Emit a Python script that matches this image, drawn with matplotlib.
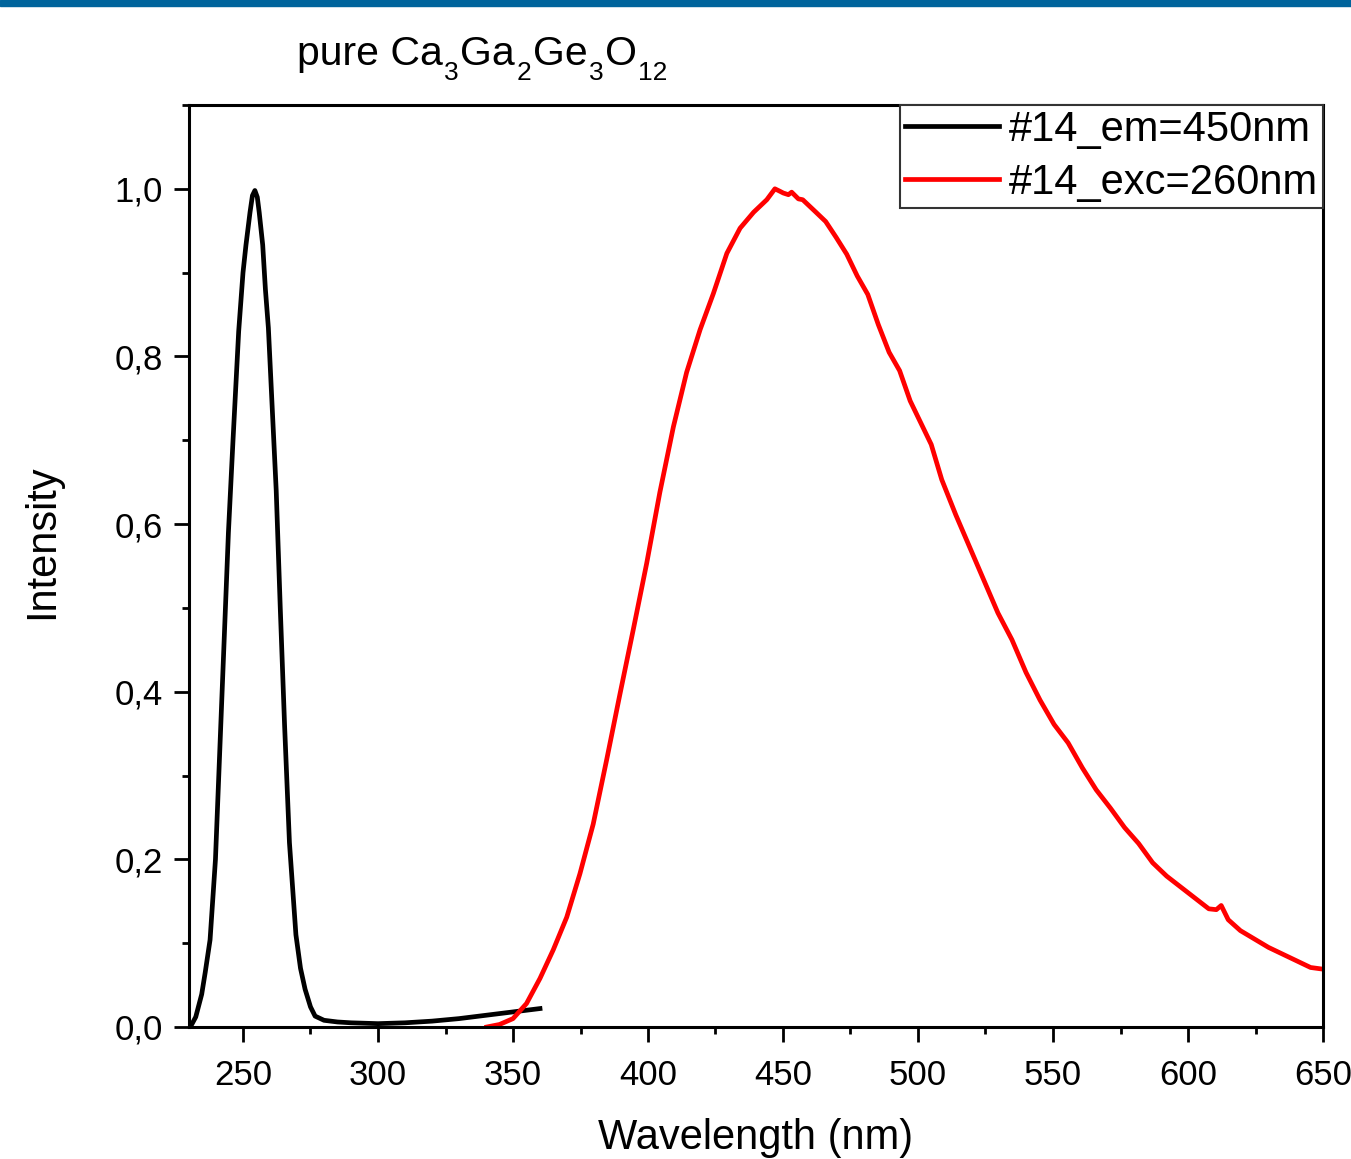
import matplotlib
matplotlib.use("Agg")
import matplotlib.pyplot as plt
from matplotlib.ticker import MultipleLocator, FuncFormatter
from matplotlib.patches import Rectangle

plt.rcParams["font.family"] = ["Liberation Sans", "DejaVu Sans"]

# excitation spectrum (em = 450 nm), black
exc_x = [230, 231, 232.5, 234.7, 236, 237.8, 239.8, 241.4, 243, 244.6, 246.3, 248.4, 250, 251.1,
         252.6, 253.5, 254.4, 255.3, 256, 257.3, 258.3, 259.4, 260.8, 262.3, 263.8, 265.4, 267.2,
         269.6, 271.3, 273, 275, 276.7, 280, 285, 290, 300, 310, 320, 330, 340, 350, 360]
exc_y = [0.0, 0.003, 0.012, 0.039, 0.065, 0.104, 0.2, 0.33, 0.46, 0.59, 0.70, 0.83, 0.9, 0.933,
         0.972, 0.992, 0.998, 0.99, 0.972, 0.933, 0.88, 0.834, 0.74, 0.64, 0.50, 0.36, 0.22,
         0.11, 0.07, 0.045, 0.024, 0.013, 0.008, 0.006, 0.005, 0.004, 0.005, 0.007, 0.010, 0.014,
         0.018, 0.022]

# emission spectrum (exc = 260 nm), red
em_x = [340.3, 345, 350, 355, 360, 364.9, 369.9, 374.8, 379.7, 384.7, 389.6, 394.6, 399.5, 404.4,
        409.4, 414.3, 419.3, 424.2, 429.2, 434.1, 439.1, 444, 447, 448.9, 450.1, 452, 453.2, 455.7,
        457.3, 461.9, 465.8, 469.7, 473.6, 477.5, 481.4, 485.3, 489.3, 493.2, 497.1, 501, 504.9,
        508.8, 514, 519.2, 524.4, 529.6, 534.8, 540, 545.2, 550.4, 555.6, 560.9, 566, 571.3, 576.5,
        581.7, 586.9, 592.1, 597.3, 602.5, 607.7, 610.5, 612.3, 614.9, 619.4, 624.6, 629.8, 635,
        640.2, 645.4, 650]
em_y = [0.0, 0.003, 0.01, 0.028, 0.058, 0.092, 0.131, 0.183, 0.242, 0.319, 0.397, 0.475, 0.553, 0.638,
        0.716, 0.781, 0.832, 0.875, 0.923, 0.953, 0.972, 0.987, 1.0, 0.997, 0.995, 0.993, 0.996, 0.988,
        0.987, 0.973, 0.961, 0.942, 0.922, 0.896, 0.874, 0.838, 0.805, 0.783, 0.747, 0.721, 0.695,
        0.653, 0.611, 0.572, 0.533, 0.494, 0.462, 0.423, 0.390, 0.361, 0.339, 0.309, 0.283, 0.261, 0.238,
        0.219, 0.196, 0.180, 0.167, 0.154, 0.141, 0.140, 0.145, 0.128, 0.115, 0.105, 0.095, 0.087,
        0.079, 0.071, 0.069]

# title pieces: (text, is_subscript)
title_parts = [("pure Ca", False), ("3", True), ("Ga", False), ("2", True),
               ("Ge", False), ("3", True), ("O", False), ("12", True)]

W, H = 1351, 1159
fig = plt.figure(figsize=(W/100, H/100), dpi=100)
ax = fig.add_axes([189/W, 1 - 1027/H, 1134/W, 922/H])

ax.plot(exc_x, exc_y, color="black", lw=3.4, label="#14_em=450nm")
ax.plot(em_x, em_y, color="#ff0000", lw=3.4, label="#14_exc=260nm")

ax.set_xlim(230, 650); ax.set_ylim(0, 1.1)
ax.xaxis.set_major_locator(MultipleLocator(50)); ax.xaxis.set_minor_locator(MultipleLocator(25))
ax.yaxis.set_major_locator(MultipleLocator(0.2)); ax.yaxis.set_minor_locator(MultipleLocator(0.1))
ax.yaxis.set_major_formatter(FuncFormatter(lambda v, _: f"{v:.1f}".replace(".", ",")))
ax.tick_params(which="major", length=11, width=2, labelsize=25, direction="out")
ax.tick_params(which="minor", length=5, width=2, direction="out")
ax.tick_params(axis="x", which="major", pad=12)
ax.tick_params(axis="y", which="major", pad=8)
for s in ax.spines.values():
    s.set_linewidth(2.2)

ax.set_xlabel("Wavelength (nm)", fontsize=30)
ax.set_ylabel("Intensity", fontsize=30)
ax.xaxis.set_label_coords(0.5, -0.099)
ax.yaxis.set_label_coords(-0.112, 0.526)

leg = ax.legend(loc="upper right", bbox_to_anchor=(1, 1), borderaxespad=0, fontsize=30,
                fancybox=False, framealpha=1, edgecolor="#333333", handlelength=2.25,
                handletextpad=0.24, labelspacing=0.3, borderpad=0.12)
leg.get_frame().set_linewidth(1.5)

# title with deep Origin-style subscripts
r = fig.canvas.get_renderer()
xpix = 297
for txt, sub in title_parts:
    t = fig.text(xpix / W, 1 - (80 if sub else 65) / H, txt, fontsize=19 if sub else 29.5,
                 ha="left", va="baseline")
    xpix += t.get_window_extent(renderer=r).width + (2 if sub else 1)

fig.patches.append(Rectangle((0, 1 - 6/H), 1, 6/H, transform=fig.transFigure,
                             color="#00649c", zorder=5))

fig.savefig("out.png", dpi=100)
